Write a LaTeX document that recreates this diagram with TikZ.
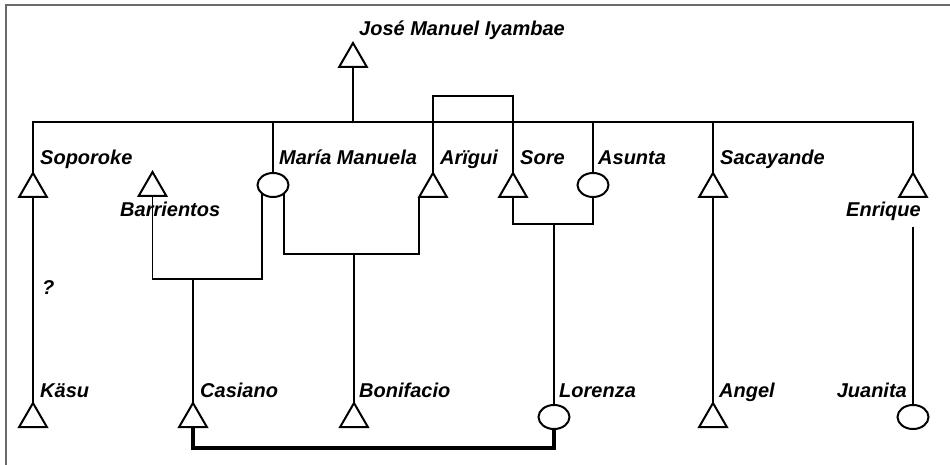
\documentclass[tikz,border=0pt]{standalone}
\usepackage{fontspec}
\setmainfont{Liberation Sans}
\usetikzlibrary{shapes.geometric}
\definecolor{framegray}{HTML}{6A6A6A}
\begin{document}
\begin{tikzpicture}[x=1pt,y=-1pt,
  male/.style={draw, line width=2pt, regular polygon, regular polygon sides=3,
    minimum size=32pt, inner sep=0pt, outer sep=0pt, anchor=corner 1, fill=white},
  female/.style={draw, line width=2pt, ellipse, minimum width=31pt,
    minimum height=24pt, inner sep=0pt, outer sep=0pt, fill=white},
  lbl/.style={font=\fontsize{20}{23}\selectfont\bfseries\itshape,
    inner sep=0pt, anchor=base west},
  kinline/.style={line width=2.8pt},
  weakline/.style={line width=1.7pt},
  heavyline/.style={line width=3.6pt},
  framed/.style={draw=framegray, line width=2pt}
]
\useasboundingbox (0,0) rectangle (950,465);
\draw[framed] (5.5,466) -- (5.5,4.7) -- (951,4.7);

% people: triangles (men) placed by their apex, ellipses (women) by centre
\node[male] (jose) at (353,43) {};
\node[male] (sopo) at (33,173) {};
\node[male] (barr) at (152.5,172) {};
\node[female] (maria) at (273,185) {};
\node[male] (arig) at (433,173) {};
\node[male] (sore) at (513,173) {};
\node[female] (asun) at (593,185) {};
\node[male] (saca) at (713,173) {};
\node[male] (enri) at (913,173) {};
\node[male] (kasu) at (33,403) {};
\node[male] (casi) at (193,403) {};
\node[male] (boni) at (354,403) {};
\node[female] (lore) at (554,417) {};
\node[male] (ange) at (713,403) {};
\node[female] (juan) at (913,417) {};

% levels of the horizontal lines
\coordinate (sib) at (0,122);
\coordinate (wed) at (0,96);
\coordinate (wedA) at (0,279);
\coordinate (wedB) at (0,254);
\coordinate (wedC) at (0,224);
\coordinate (wedD) at (0,448);
\coordinate (enriLow) at (913,227);

% sibling line and its father
\draw[kinline] (sopo.corner 1) -- (sopo.corner 1 |- sib) -- (enri.corner 1 |- sib) -- (enri.corner 1);
\draw[kinline] (jose.side 2) -- (jose.side 2 |- sib);
\draw[kinline] (maria.north) -- (maria.north |- sib);
\draw[kinline] (asun.north) -- (asun.north |- sib);
\draw[kinline] (saca.corner 1) -- (saca.corner 1 |- sib);
\draw[kinline] (arig.corner 1) -- (arig.corner 1 |- wed) -- (sore.corner 1 |- wed) -- (sore.corner 1);

% descent lines
\draw[kinline] (sopo.side 2) -- (kasu.corner 1);
\draw[kinline] (saca.side 2) -- (ange.corner 1);
\draw[kinline] (enriLow) -- (juan.north);

% María Manuela's unions
\draw[weakline] (barr.side 2) -- (barr.side 2 |- wedA) -- (maria.218 |- wedA) -- (maria.218);
\draw[kinline] (casi.corner 1 |- wedA) -- (casi.corner 1);
\draw[weakline] (maria.322) -- (maria.322 |- wedB) -- (arig.corner 2 |- wedB) -- (arig.corner 2);
\draw[weakline] (boni.corner 1 |- wedB) -- (boni.corner 1);

% Sore and Asunta, their daughter Lorenza
\draw[kinline] (sore.side 2) -- (sore.side 2 |- wedC) -- (asun.south |- wedC) -- (asun.south);
\draw[kinline] (lore.north |- wedC) -- (lore.north);

% Lorenza and Casiano
\draw[heavyline] (lore.south) -- (lore.south |- wedD) -- (casi.side 2 |- wedD) -- (casi.side 2);

% names
\node[lbl] (tJose) at (359,36) {José Manuel Iyambae};
\node[lbl] (tSopo) at (40,165) {Soporoke};
\node[lbl] (tMaria) at (279,165) {María Manuela};
\node[lbl] (tArig) at (440,165) {Arïgui};
\node[lbl] (tSore) at (520,165) {Sore};
\node[lbl] (tAsun) at (598,165) {Asunta};
\node[lbl] (tSaca) at (720,165) {Sacayande};
\node[lbl] (tBarr) at (120,217) {Barrientos};
\node[lbl] (tEnri) at (846,217) {Enrique};
\node[lbl] (tQ) at (42,294) {?};
\node[lbl] (tKasu) at (40,397) {Käsu};
\node[lbl] (tCasi) at (200,397) {Casiano};
\node[lbl] (tBoni) at (359,397) {Bonifacio};
\node[lbl] (tLore) at (559,397) {Lorenza};
\node[lbl] (tAnge) at (719,397) {Angel};
\node[lbl, anchor=base east] (tJuan) at (907,397) {Juanita};
\end{tikzpicture}
\end{document}
